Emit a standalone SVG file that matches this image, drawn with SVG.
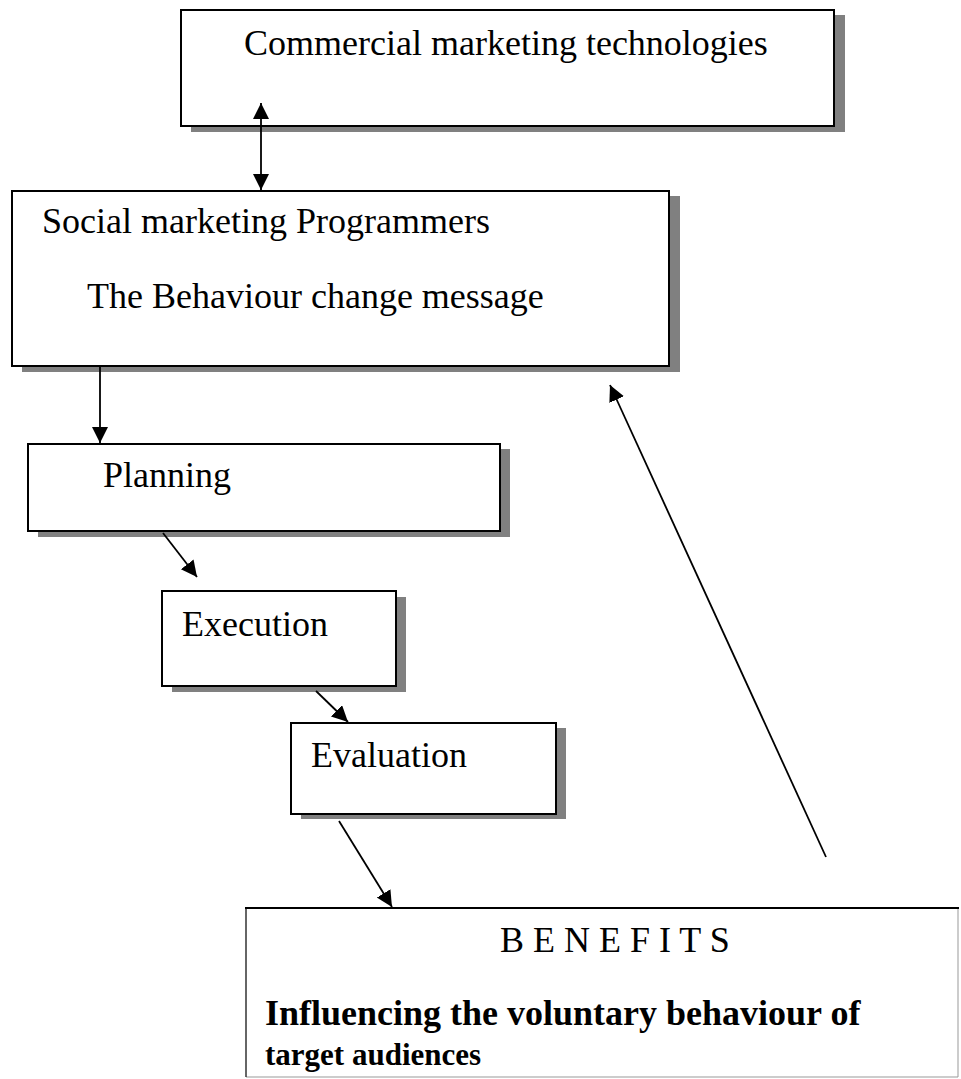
<svg xmlns="http://www.w3.org/2000/svg" width="961" height="1079" viewBox="0 0 961 1079">
<style>
.box{fill:#fff;stroke:#000;stroke-width:2}
.sh{fill:#808080}
.t{font-family:"Liberation Serif","Times New Roman",serif;font-size:36px;fill:#000}
.b{font-weight:bold}
.c{stroke:#000;stroke-width:1.8;fill:none}
</style>
<defs>
<marker id="ah" markerUnits="userSpaceOnUse" markerWidth="18" markerHeight="18" viewBox="0 0 18 18" refX="16" refY="8" orient="auto-start-reverse">
<path d="M0,0 L16,8 L0,16 z" fill="#000"/>
</marker>
</defs>
<rect width="961" height="1079" fill="#fff"/>
<g id="commercial">
<rect class="sh" x="191" y="15" width="654" height="117"/>
<rect class="box" x="181" y="10" width="653" height="116"/>
<text class="t" x="244" y="55">Commercial marketing technologies</text>
</g>
<g id="social">
<rect class="sh" x="22" y="196" width="658" height="176"/>
<rect class="box" x="12" y="191" width="657" height="175"/>
<text class="t" x="42" y="233">Social marketing Programmers</text>
<text class="t" x="87" y="308">The Behaviour change message</text>
</g>
<g id="planning">
<rect class="sh" x="38" y="449" width="472" height="88"/>
<rect class="box" x="28" y="444" width="472" height="87"/>
<text class="t" x="103" y="487">Planning</text>
</g>
<g id="execution">
<rect class="sh" x="172" y="597" width="234" height="95"/>
<rect class="box" x="162" y="591" width="234" height="95"/>
<text class="t" x="182" y="636">Execution</text>
</g>
<g id="evaluation">
<rect class="sh" x="301" y="728" width="265" height="91"/>
<rect class="box" x="291" y="723" width="265" height="91"/>
<text class="t" x="311" y="767">Evaluation</text>
</g>
<g id="benefits">
<rect x="246" y="908" width="712" height="169" fill="#fff"/>
<line x1="958" y1="908" x2="958" y2="1077" stroke="#999" stroke-width="1"/>
<line x1="246" y1="1077" x2="958" y2="1077" stroke="#999" stroke-width="1"/>
<line x1="246" y1="908" x2="246" y2="1077" stroke="#333" stroke-width="1.5"/>
<line x1="245" y1="908" x2="959" y2="908" stroke="#000" stroke-width="2"/>
<text class="t" x="500" y="952">B E N E F I T S</text>
<text class="t b" x="265" y="1025">Influencing the voluntary behaviour of</text>
<text class="t b" x="265" y="1065" style="font-size:31px">target audiences</text>
</g>
<g id="connectors">
<line class="c" x1="261" y1="103" x2="261" y2="190" marker-start="url(#ah)" marker-end="url(#ah)"/>
<line class="c" x1="100" y1="367" x2="100" y2="443" marker-end="url(#ah)"/>
<line class="c" x1="163" y1="533" x2="197" y2="577" marker-end="url(#ah)"/>
<line class="c" x1="316" y1="691" x2="348" y2="722" marker-end="url(#ah)"/>
<line class="c" x1="339" y1="821" x2="392" y2="907" marker-end="url(#ah)"/>
<line class="c" x1="826" y1="857" x2="610" y2="385" marker-end="url(#ah)"/>
</g>
</svg>
